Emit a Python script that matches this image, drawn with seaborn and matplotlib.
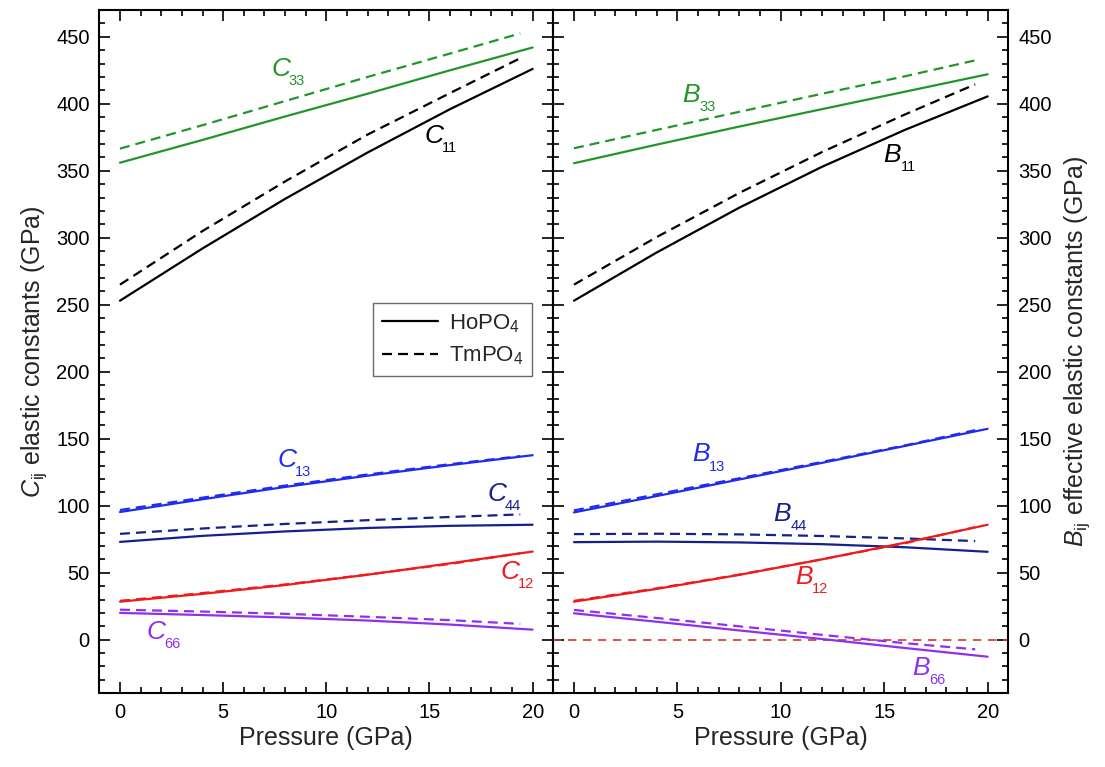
import matplotlib
matplotlib.use('Agg')
import matplotlib.pyplot as plt
from matplotlib.lines import Line2D
from matplotlib.ticker import MultipleLocator
import seaborn as sns


# ==============================
# DATA
# ==============================
P_HO = [0, 4, 8, 12, 16, 20]          # pressure grid, HoPO4 (solid)
P_TM = [0, 4, 8, 12, 16, 19.4]        # pressure grid, TmPO4 (dashed)

# elastic constants C_ij (GPa)
C11_HO = [253, 292, 329, 363.6, 396, 426]
C11_TM = [265, 305, 342, 377, 408, 434]
C33_HO = [356, 373, 390.5, 407.5, 425, 442]
C33_TM = [366.5, 384, 402, 420, 437.5, 452.5]
C13_HO = [95.3, 104.8, 114, 122.4, 130.3, 137.7]
C13_TM = [96.8, 106, 115, 123.3, 131, 137]
C44_HO = [73, 77.5, 80.8, 83.4, 85, 85.8]
C44_TM = [79, 83, 86.4, 89.2, 91.6, 93.5]
C12_HO = [28.4, 34.2, 40.8, 48.5, 57, 65.8]
C12_TM = [29, 34.8, 41.2, 48.6, 56.6, 64.5]
C66_HO = [20, 18.4, 16.6, 14.3, 11.3, 7.5]
C66_TM = [22.4, 21, 19.3, 17.1, 14.6, 11.8]

# effective elastic constants B_ij (GPa)
B11_HO = [253, 289, 322.5, 353, 380.5, 405.5]
B11_TM = [265, 300.5, 333.5, 364, 392, 414.5]
B33_HO = [355.6, 369.5, 383, 396, 409, 422]
B33_TM = [366.8, 380.5, 394, 407.5, 420.5, 432.4]
B13_HO = [95, 107.2, 119.6, 132, 144.6, 157.4]
B13_TM = [96.5, 108.5, 120.5, 132.7, 145, 156.4]
B44_HO = [72.8, 73.2, 72.6, 71.3, 69, 65.6]
B44_TM = [78.8, 79.1, 78.6, 77.4, 75.6, 73.6]
B12_HO = [28.4, 37.9, 48.4, 60, 72.4, 85.8]
B12_TM = [29, 38.3, 48.6, 60, 72, 84]
B66_HO = [19.7, 13.4, 6.9, 0.5, -6.2, -12.7]
B66_TM = [22.2, 16.2, 10, 3.6, -2.6, -7.2]

# label text: (letter, subscript, x, y) baseline of the letter
C_LABELS = [("C", "33", 7.33, 421), ("C", "11", 14.77, 371),
            ("C", "13", 7.64, 129), ("C", "44", 17.8, 103.5),
            ("C", "12", 18.46, 45.4), ("C", "66", 1.3, 0.5)]
B_LABELS = [("B", "33", 5.22, 401), ("B", "11", 14.97, 356.4),
            ("B", "13", 5.7, 133), ("B", "44", 9.65, 88.3),
            ("B", "12", 10.68, 41.6), ("B", "66", 16.34, -26.4)]


# ==============================
# STYLE
# ==============================
GREEN = "#22962a"
BLACK = "#000000"
BLUE = "#1f2cf0"
NAVY = "#15208f"
RED = "#f01a1a"
PURPLE = "#9030ee"
LABEL_COLORS = {"33": GREEN, "11": BLACK, "13": BLUE,
                "44": NAVY, "12": RED, "66": PURPLE}

DASH = (0, (4.5, 2.7))
LW = 1.6

sns.set_style("ticks")
plt.rcParams['font.family'] = ['Liberation Sans', 'DejaVu Sans']
plt.rcParams['mathtext.fontset'] = 'custom'
plt.rcParams['mathtext.rm'] = 'Liberation Sans'
plt.rcParams['mathtext.it'] = 'Liberation Sans:italic'
plt.rcParams['axes.linewidth'] = 1.5


def draw_pair(ax, y_ho, y_tm, color):
    sns.lineplot(x=P_HO, y=y_ho, ax=ax, color=color, lw=LW)
    sns.lineplot(x=P_TM, y=y_tm, ax=ax, color=color, lw=LW, linestyle=DASH)


def put_label(ax, letter, sub, x, y):
    color = LABEL_COLORS[sub]
    ax.text(x, y, letter, fontsize=19, fontstyle='italic', color=color,
            ha='left', va='baseline')
    ax.annotate(sub, xy=(x, y), xytext=(12.5, -6.5), textcoords='offset points',
                fontsize=10.5, color=color, ha='left', va='baseline')


def style_axes(ax):
    ax.set_xlim(-1, 21)
    ax.set_ylim(-40, 470)
    ax.xaxis.set_major_locator(MultipleLocator(5))
    ax.xaxis.set_minor_locator(MultipleLocator(1))
    ax.yaxis.set_major_locator(MultipleLocator(50))
    ax.yaxis.set_minor_locator(MultipleLocator(10))
    ax.tick_params(which='both', direction='in', top=True, bottom=True,
                   left=True, right=True, width=1.2, colors='black')
    ax.tick_params(which='major', length=8, labelsize=14.5)
    ax.tick_params(which='minor', length=4)
    ax.tick_params(axis='x', pad=7)
    for sp in ax.spines.values():
        sp.set_visible(True)
        sp.set_linewidth(1.5)
        sp.set_color('black')
    ax.set_xlabel("Pressure (GPa)", fontsize=18, labelpad=3)


# ==============================
# FIGURE
# ==============================
fig = plt.figure(figsize=(11.05, 7.67), dpi=100)
ax_c = fig.add_axes([0.0899, 0.0961, 0.4108, 0.8909])
ax_b = fig.add_axes([0.5007, 0.0961, 0.4118, 0.8909], sharey=ax_c)

# left panel: C_ij
draw_pair(ax_c, C33_HO, C33_TM, GREEN)
draw_pair(ax_c, C11_HO, C11_TM, BLACK)
draw_pair(ax_c, C13_HO, C13_TM, BLUE)
draw_pair(ax_c, C44_HO, C44_TM, NAVY)
draw_pair(ax_c, C12_HO, C12_TM, RED)
draw_pair(ax_c, C66_HO, C66_TM, PURPLE)
for lab in C_LABELS:
    put_label(ax_c, *lab)

# right panel: B_ij
ax_b.axhline(0, color="#d8352a", lw=1.2, linestyle=(0, (5, 4)))
draw_pair(ax_b, B33_HO, B33_TM, GREEN)
draw_pair(ax_b, B11_HO, B11_TM, BLACK)
draw_pair(ax_b, B13_HO, B13_TM, BLUE)
draw_pair(ax_b, B44_HO, B44_TM, NAVY)
draw_pair(ax_b, B12_HO, B12_TM, RED)
draw_pair(ax_b, B66_HO, B66_TM, PURPLE)
for lab in B_LABELS:
    put_label(ax_b, *lab)

style_axes(ax_c)
style_axes(ax_b)

ax_c.tick_params(axis='y', labelleft=True, labelright=False, pad=7)
ax_b.tick_params(axis='y', labelleft=False, labelright=True, pad=7)
ax_b.yaxis.set_label_position('right')

ax_c.set_ylabel(r"$C_{\mathregular{ij}}$ elastic constants (GPa)", fontsize=18,
                labelpad=5)
ax_b.set_ylabel(r"$B_{\mathregular{ij}}$ effective elastic constants (GPa)",
                fontsize=18, labelpad=8)

# legend
handles = [Line2D([], [], color='black', lw=LW),
           Line2D([], [], color='black', lw=LW, linestyle=DASH)]
leg = ax_c.legend(handles, [r"HoPO$_4$", r"TmPO$_4$"], loc='upper left',
                  bbox_to_anchor=(0.603, 0.571), borderaxespad=0, fontsize=16,
                  frameon=True, fancybox=False, borderpad=0.4,
                  handlelength=2.5, handletextpad=0.5, labelspacing=0.45)
leg.get_frame().set_edgecolor('#444444')
leg.get_frame().set_linewidth(1.0)

fig.savefig("out.png", dpi=100)
